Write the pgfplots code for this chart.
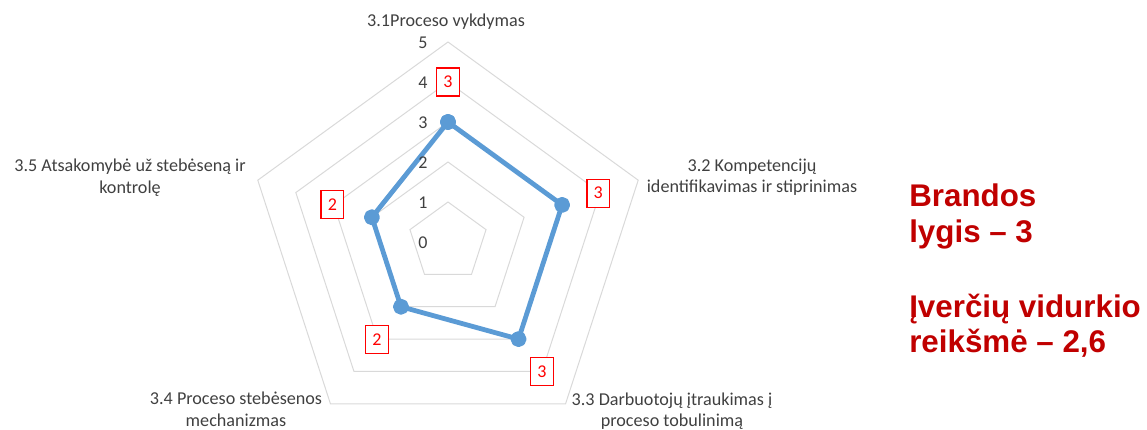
\documentclass[border=0pt]{standalone}
\usepackage{pgfplots}
\pgfplotsset{compat=1.18}
\usepgfplotslibrary{polar}
\usepackage{fontspec}
\setmainfont{Carlito}
\newfontfamily\arialb{Liberation Sans}
\definecolor{gridgray}{RGB}{217,217,217}
\definecolor{xlblue}{RGB}{91,155,213}
\definecolor{txtgray}{RGB}{64,64,64}
\definecolor{darkred}{RGB}{192,0,0}
\begin{document}
\begin{tikzpicture}
\useasboundingbox (0,0) rectangle (860.25pt,321.75pt);
\begin{polaraxis}[
  hide axis, scale only axis, width=300pt, height=300pt,
  ymin=0, ymax=5, xmin=0, xmax=360,
  at={(336pt,140.25pt)}, anchor=center,
  clip=false,
]
\addplot[gridgray, line width=0.75pt, mark=none] coordinates {(90,1)(18,1)(306,1)(234,1)(162,1)(90,1)};
\addplot[gridgray, line width=0.75pt, mark=none] coordinates {(90,2)(18,2)(306,2)(234,2)(162,2)(90,2)};
\addplot[gridgray, line width=0.75pt, mark=none] coordinates {(90,3)(18,3)(306,3)(234,3)(162,3)(90,3)};
\addplot[gridgray, line width=0.75pt, mark=none] coordinates {(90,4)(18,4)(306,4)(234,4)(162,4)(90,4)};
\addplot[gridgray, line width=0.75pt, mark=none] coordinates {(90,5)(18,5)(306,5)(234,5)(162,5)(90,5)};
\addplot[xlblue, line width=3.6pt, line join=round, mark=*, mark size=4.2pt,
  mark options={fill=xlblue, draw=none}]
  coordinates {(90,3)(18,3)(306,3)(234,2)(162,2)(90,3)};
\addplot[draw=none, mark=none, nodes near coords, point meta=explicit symbolic,
  every node near coord/.append style={anchor=center, draw=red, fill=white, text=red,
    line width=1pt, font=\fontsize{13.5}{15}\selectfont, minimum width=17pt,
    minimum height=21pt, inner sep=0pt}]
  coordinates {(90,4.0)[3] (18,3.95)[3] (306,4.0)[3] (234,3.02)[2] (162,3.04)[2]};
\addplot[draw=none, mark=none, nodes near coords, point meta=explicit symbolic,
  every node near coord/.append style={anchor=center, xshift=-18.75pt, yshift=-0.75pt,
    text=txtgray, font=\fontsize{13.5}{15}\selectfont, inner sep=0pt}]
  coordinates {(90,0)[0] (90,1)[1] (90,2)[2] (90,3)[3] (90,4)[4] (90,5)[5]};
\end{polaraxis}
\begin{scope}[every node/.style={text=txtgray, font=\fontsize{13.6}{16}\selectfont, inner sep=0pt, anchor=base}]
\node at (334.5pt,301.5pt) {3.1Proceso vykdymas};
\node at (564pt,192.75pt) {3.2 Kompetencijų};
\node at (564pt,177pt) {identifikavimas ir stiprinimas};
\node at (97.5pt,192.75pt) {3.5 Atsakomybė už stebėseną ir};
\node at (97.5pt,176.25pt) {kontrolę};
\node at (177pt,18.75pt) {3.4 Proceso stebėsenos};
\node at (177pt,2.25pt) {mechanizmas};
\node at (504pt,18pt) {3.3 Darbuotojų įtraukimas į};
\node at (504pt,2.25pt) {proceso tobulinimą};
\end{scope}
\begin{scope}[every node/.style={text=darkred, font=\arialb\bfseries\fontsize{23.5}{27}\selectfont, inner sep=0pt, anchor=base west}]
\node at (681.75pt,166.5pt) {Brandos};
\node at (681.75pt,139.5pt) {lygis – 3};
\node at (681.75pt,84pt) {Įverčių vidurkio};
\node at (681.75pt,57pt) {reikšmė – 2,6};
\end{scope}
\end{tikzpicture}
\end{document}
